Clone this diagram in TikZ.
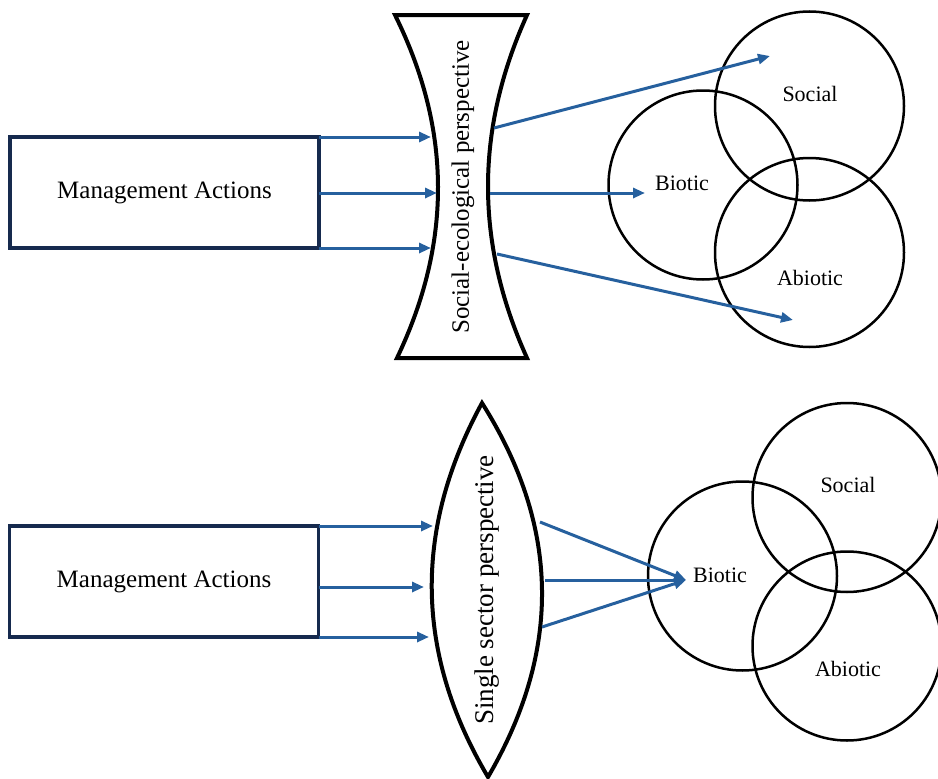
\documentclass[tikz,border=0pt]{standalone}
\usepackage{fontspec}
\setmainfont{Liberation Serif}
\usetikzlibrary{arrows.meta}
\definecolor{navy}{RGB}{22,42,78}
\definecolor{arrowblue}{RGB}{38,96,158}
\tikzset{
  mgmt/.style={draw=navy,line width=3.5pt,minimum width=309pt,minimum height=111pt,inner sep=0pt,outer sep=0pt,font=\fontsize{25}{30}\selectfont},
  flow/.style={draw=arrowblue,line width=3pt,-{Triangle[length=12pt,width=10pt]}},
  lens/.style={draw=black,line width=4pt,line join=miter},
  venn/.style={draw=black,line width=2.5pt,circle,minimum size=189pt,inner sep=0pt},
  vlabel/.style={font=\fontsize{22}{26}\selectfont,inner sep=0pt},
  lenslabel/.style={rotate=90,inner sep=0pt}
}
\begin{document}
\begin{tikzpicture}[x=1pt,y=-1pt]
\useasboundingbox (0,0) rectangle (938,779);
% ---------- top panel ----------
\node[mgmt] (boxA) at (164.5,192.5) {Management Actions};
\draw[lens] (395,15) -- (527,15) .. controls (475,130) and (475,243) .. (527,358)
  -- (397,358) .. controls (452,243) and (452,130) .. (395,15) -- cycle;
\node[lenslabel,font=\fontsize{25}{30}\selectfont] (lensA) at (463,187) {Social-ecological perspective};
\node[venn] (socA) at (809.5,106) {};
\node[venn] (bioA) at (703,185) {};
\node[venn] (abiA) at (809.5,252.5) {};
\node[vlabel] (socAl) at (810,94) {Social};
\node[vlabel] (bioAl) at (682,183) {Biotic};
\node[vlabel] (abiAl) at (810,278) {Abiotic};
\coordinate (inA1) at (431,137);
\coordinate (inA2) at (437,193);
\coordinate (inA3) at (431,248);
\coordinate (outA1) at (494,128);
\coordinate (outA2) at (490,193);
\coordinate (outA3) at (497,254);
\coordinate (tipA1) at (770,56);
\coordinate (tipA2) at (645,193);
\coordinate (tipA3) at (793,320);
\draw[flow] (boxA.north east) -- (inA1);
\draw[flow] (boxA.east |- inA2) -- (inA2);
\draw[flow] (boxA.south east) -- (inA3);
\draw[flow] (outA1) -- (tipA1);
\draw[flow] (outA2) -- (tipA2);
\draw[flow] (outA3) -- (tipA3);
% ---------- bottom panel ----------
\node[mgmt] (boxB) at (164,581.5) {Management Actions};
\draw[lens] (482,403) .. controls (561,528) and (561,652) .. (488,777)
  .. controls (414,652) and (414,528) .. (482,403) -- cycle;
\node[lenslabel,font=\fontsize{27}{32}\selectfont] (lensB) at (487,590) {Single sector perspective};
\node[venn] (socB) at (847,497.5) {};
\node[venn] (bioB) at (742.5,576) {};
\node[venn] (abiB) at (847,646) {};
\node[vlabel] (socBl) at (848,485) {Social};
\node[vlabel] (bioBl) at (720,575) {Biotic};
\node[vlabel] (abiBl) at (848,669) {Abiotic};
\coordinate (inB1) at (433,526);
\coordinate (inB2) at (424,587);
\coordinate (inB3) at (429,637);
\coordinate (outB1) at (540,522);
\coordinate (outB2) at (545,580);
\coordinate (outB3) at (542,627);
\coordinate (tipB) at (686,580);
\draw[flow] (boxB.north east) -- (inB1);
\draw[flow] (boxB.east |- inB2) -- (inB2);
\draw[flow] (boxB.south east) -- (inB3);
\draw[flow] (outB1) -- (tipB);
\draw[flow] (outB2) -- (tipB);
\draw[flow] (outB3) -- (tipB);
\end{tikzpicture}
\end{document}
